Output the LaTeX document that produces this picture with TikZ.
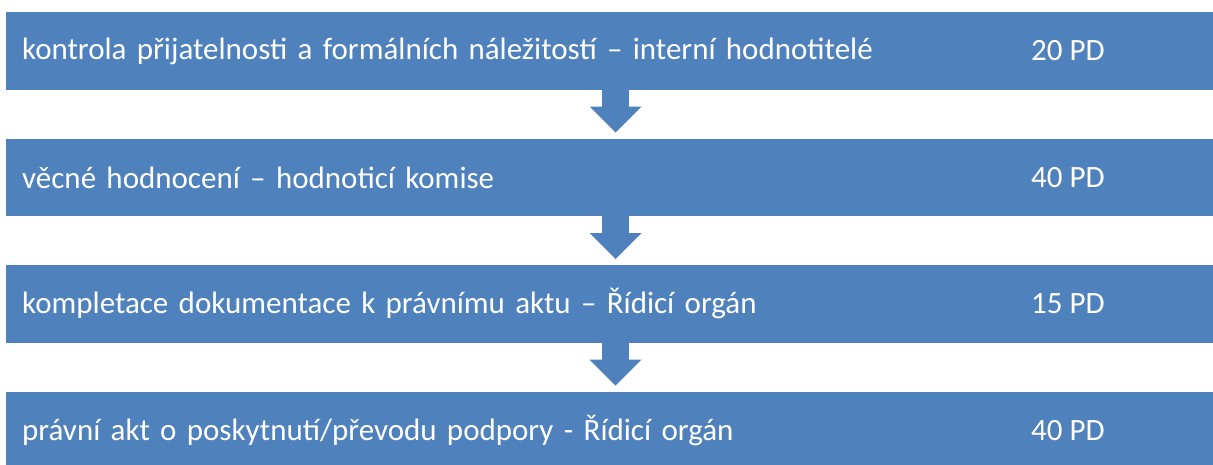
\documentclass[tikz,border=0pt]{standalone}
\usepackage{fontspec}
\setmainfont{Carlito}
\usepackage{tikz}
\usetikzlibrary{arrows.meta, positioning}
\usepackage{xcolor}
\definecolor{stageblue}{HTML}{4F81BD}
\tikzset{%
	stage bar/.style={
		rectangle,
		fill=stageblue,
		text=white,
		anchor=north west,
		minimum width=1207pt,
		minimum height=77.5pt,
		text width=1175pt,
		inner xsep=16pt,
		align=left,
		font=\fontsize{31}{37}\selectfont
	},
	stage days/.style={
		text=white,
		anchor=west,
		inner sep=0pt,
		font=\fontsize{31}{37}\selectfont
	},
	stage arrow/.style={
		draw=stageblue,
		line width=27pt,
		-{Triangle[width=52pt,length=26pt,line width=0pt]},
		shorten >=6pt
	},
}

\begin{document}
\begin{tikzpicture}[x=1pt,y=-1pt]
	
	\clip (0,0) rectangle (1213,464);
	
	\node[stage bar] (bar1) at (6,12) {kontrola přijatelnosti a formálních náležitostí – interní hodnotitelé};
	\node[stage bar] (bar2) at (6,138.5) {věcné hodnocení – hodnoticí komise};
	\node[stage bar] (bar3) at (6,265) {kompletace dokumentace k právnímu aktu – Řídicí orgán};
	\node[stage bar] (bar4) at (6,391.5) {právní akt o poskytnutí/převodu podpory - Řídicí orgán};
	
	\node[stage days] (days1) at (1031,0 |- bar1.west) {20 PD};
	\node[stage days] (days2) at (1031,0 |- bar2.west) {40 PD};
	\node[stage days] (days3) at (1031,0 |- bar3.west) {15 PD};
	\node[stage days] (days4) at (1031,0 |- bar4.west) {40 PD};
	
	\draw[stage arrow] (615.5,0 |- bar1.south) -- (615.5,0 |- bar2.north);
	\draw[stage arrow] (615.5,0 |- bar2.south) -- (615.5,0 |- bar3.north);
	\draw[stage arrow] (615.5,0 |- bar3.south) -- (615.5,0 |- bar4.north);
	
\end{tikzpicture}
\end{document}
